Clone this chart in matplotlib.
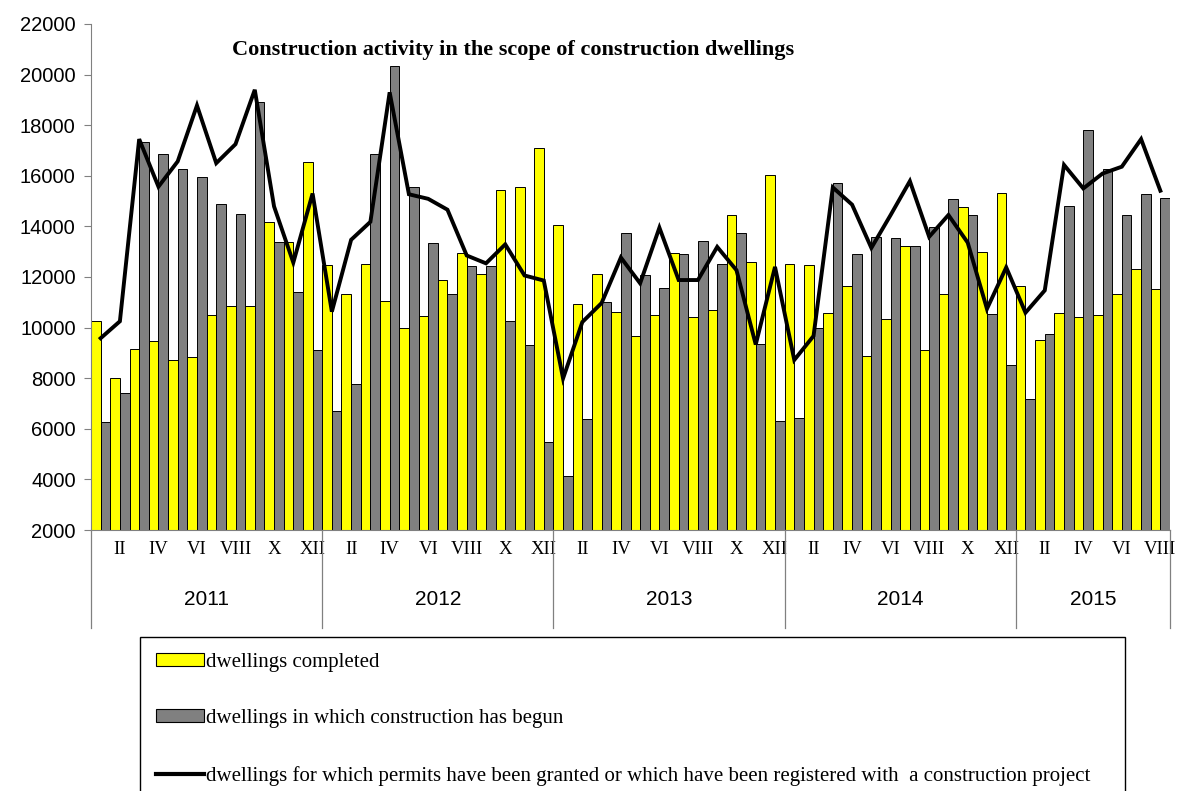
import numpy as np
import matplotlib
matplotlib.use("Agg")
import matplotlib.pyplot as plt
from matplotlib.patches import Patch
from matplotlib.lines import Line2D

# monthly data 2011-01 .. 2015-08
years = ["2011", "2012", "2013", "2014", "2015"]
months_per_year = [12, 12, 12, 12, 8]
month_labels = ["", "II", "", "IV", "", "VI", "", "VIII", "", "X", "", "XII"]

completed = [10250, 8010, 9170, 9470, 8720, 8840, 10500, 10870, 10870, 14160, 13390, 16530,
             12460, 11310, 12530, 11060, 9970, 10450, 11880, 12960, 12130, 15450, 15570, 17090,
             14050, 10940, 12130, 10610, 9670, 10510, 12950, 10420, 10680, 14440, 12590, 16030,
             12530, 12470, 10560, 11650, 8890, 10330, 13220, 9100, 11310, 14750, 12980, 15310,
             11650, 9500, 10560, 10420, 10480, 11310, 12330, 11520]
begun = [6260, 7420, 17320, 16850, 16280, 15950, 14890, 14500, 18900, 13390, 11390, 9110,
         6700, 7770, 16850, 20350, 15570, 13340, 11310, 12420, 12420, 10250, 9320, 5480,
         4140, 6370, 11000, 13730, 12090, 11580, 12910, 13410, 12530, 13730, 9360, 6300,
         6440, 10000, 15710, 12910, 13600, 13550, 13220, 13970, 15070, 14450, 10520, 8540,
         7190, 9740, 14820, 17810, 16280, 14450, 15270, 15130]
permits = [9580, 10250, 17450, 15570, 16570, 18780, 16500, 17250, 19400, 14790, 12570, 15300,
           10630, 13470, 14180, 19300, 15270, 15090, 14660, 12850, 12540, 13290, 12060, 11860,
           7990, 10220, 10970, 12770, 11750, 13950, 11880, 11880, 13190, 12270, 9330, 12400,
           8720, 9670, 15540, 14860, 13150, 14450, 15790, 13590, 14450, 13360, 10740, 12380,
           10590, 11470, 16430, 15500, 16090, 16360, 17450, 15410]

labels = ["dwellings completed",
          "dwellings in which construction has begun",
          "dwellings for which permits have been granted or which have been registered with  a construction project"]
title = "Construction activity in the scope of construction dwellings"

serif = ["Liberation Serif", "DejaVu Serif"]
sans = ["Liberation Sans", "DejaVu Sans"]

n = len(completed)
x = np.arange(n)

fig = plt.figure(figsize=(11.77, 7.91), dpi=100)
W, H = 1177, 791
ax = fig.add_axes([91 / W, 1 - 530 / H, (1170 - 91) / W, (530 - 24) / H])

ax.bar(x - 0.25, completed, width=0.5, color="#ffff00", edgecolor="black", linewidth=0.7)
ax.bar(x + 0.25, begun, width=0.5, color="#808080", edgecolor="black", linewidth=0.7)
ax.plot(x, permits, color="black", linewidth=2.8, solid_joinstyle="miter")

ax.set_xlim(-0.5, n - 0.5)
ax.set_ylim(2000, 22000)
ax.set_yticks(np.arange(2000, 22001, 2000))
ax.set_yticklabels([str(v) for v in range(2000, 22001, 2000)], family=sans, fontsize=14.5)
ax.tick_params(axis="y", color="#808080", length=5, pad=6)

# month ticks
ticks, tlabels = [], []
for i in range(n):
    lab = month_labels[i % 12]
    if lab:
        ticks.append(i)
        tlabels.append(lab)
ax.set_xticks(ticks)
ax.set_xticklabels(tlabels, family=serif, fontsize=13.5)
ax.tick_params(axis="x", length=0, pad=8)

for s in ["top", "right"]:
    ax.spines[s].set_visible(False)
ax.spines["left"].set_color("#808080")
ax.spines["bottom"].set_color("#808080")

# year separators and labels
trans = ax.get_xaxis_transform()
start = 0
bounds = [-0.5]
for yr, m in zip(years, months_per_year):
    ax.text(start + m / 2 - 0.5, -0.138, yr, transform=trans, ha="center", va="center",
            family=sans, fontsize=15)
    start += m
    bounds.append(start - 0.5)
for b in bounds:
    ax.plot([b, b], [0, -0.194], transform=trans, color="#808080", linewidth=0.9, clip_on=False)

fig.text(513 / W, 1 - 50 / H, title, ha="center", va="center", family=serif,
         fontweight="bold", fontsize=16)

handles = [Patch(facecolor="#ffff00", edgecolor="black", linewidth=0.8),
           Patch(facecolor="#808080", edgecolor="black", linewidth=0.8),
           Line2D([0], [0], color="black", linewidth=3)]
leg = fig.legend(handles, labels, loc="upper left",
                 bbox_to_anchor=(140 / W, 1 - 637 / H, (1125 - 140) / W, 0),
                 bbox_transform=fig.transFigure, mode="expand", borderaxespad=0,
                 prop={"family": serif, "size": 15}, handlelength=2.3, handleheight=0.55,
                 handletextpad=0.1, labelspacing=1.8, borderpad=0.75,
                 fancybox=False, framealpha=1)
leg.get_frame().set_edgecolor("black")
leg.get_frame().set_linewidth(1.0)

fig.savefig("out.png", dpi=100)
